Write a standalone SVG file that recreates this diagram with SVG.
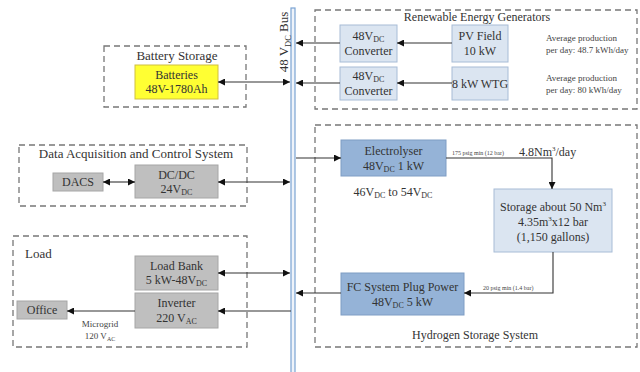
<svg xmlns="http://www.w3.org/2000/svg" width="640" height="372" viewBox="0 0 640 372">
  <defs>
    <marker id="ah" viewBox="0 0 10 10" refX="10" refY="5" markerWidth="7" markerHeight="7" markerUnits="userSpaceOnUse" orient="auto-start-reverse">
      <path d="M0,0 L10,5 L0,10 z" fill="#111"/>
    </marker>
    <style>
      text { font-family: "Liberation Serif", "Times New Roman", serif; fill: #333; }
      .group { fill: none; stroke: #777; stroke-width: 1.3; stroke-dasharray: 6 4; }
      .title { font-size: 13px; }
      .label { font-size: 12px; text-anchor: middle; }
      .note { font-size: 9px; fill: #444; }
      .tiny { font-size: 6px; fill: #444; }
      .lblue { fill: #dbe5f1; stroke: #a7bcd6; stroke-width: 1; }
      .dblue { fill: #95b3d7; stroke: #7f9dc4; stroke-width: 1; }
      .gray { fill: #bfbfbf; stroke: #a6a6a6; stroke-width: 1; }
      .yellow { fill: #ffff33; stroke: #d0c040; stroke-width: 1; }
      .wire { fill: none; stroke: #333; stroke-width: 1.1; }
      .one { marker-end: url(#ah); }
      .two { marker-start: url(#ah); marker-end: url(#ah); }
    </style>
  </defs>

  <!-- DC bus -->
  <g id="bus">
    <rect x="291" y="8" width="4" height="366" fill="#eef3fa" stroke="#7aa3d3" stroke-width="1.2"/>
    <text transform="translate(288,42) rotate(-90)" text-anchor="middle" font-size="13">48 V<tspan font-size="8.5" dy="3">DC</tspan><tspan dy="-3"> Bus</tspan></text>
  </g>

  <!-- group frames -->
  <g id="renewable-group">
    <rect class="group" x="315" y="10" width="322" height="99"/>
    <text x="477" y="21" font-size="12" text-anchor="middle">Renewable Energy Generators</text>
  </g>
  <g id="battery-group">
    <rect class="group" x="104" y="46" width="142" height="61"/>
    <text class="title" x="177" y="60" text-anchor="middle">Battery Storage</text>
  </g>
  <g id="dacs-group">
    <rect class="group" x="19" y="145" width="228" height="61"/>
    <text class="title" x="136" y="158" text-anchor="middle">Data Acquisition and Control System</text>
  </g>
  <g id="load-group">
    <rect class="group" x="13" y="236" width="234" height="111"/>
    <text class="title" x="25" y="258">Load</text>
  </g>
  <g id="hydrogen-group">
    <rect class="group" x="315" y="125" width="322" height="222"/>
    <text x="475" y="339" font-size="12" text-anchor="middle">Hydrogen Storage System</text>
  </g>

  <!-- renewable generators -->
  <g id="converter-pv">
    <rect class="lblue" x="340" y="25" width="57" height="37"/>
    <text class="label" x="368.5" y="40">48V<tspan font-size="8" dy="2">DC</tspan></text>
    <text class="label" x="368.5" y="55">Converter</text>
  </g>
  <g id="converter-wtg">
    <rect class="lblue" x="340" y="67" width="57" height="33"/>
    <text class="label" x="368.5" y="80">48V<tspan font-size="8" dy="2">DC</tspan></text>
    <text class="label" x="368.5" y="95">Converter</text>
  </g>
  <g id="pv-field">
    <rect class="lblue" x="452" y="25" width="56" height="37"/>
    <text class="label" x="480" y="40">PV Field</text>
    <text class="label" x="480" y="55">10 kW</text>
  </g>
  <g id="wtg">
    <rect class="lblue" x="452" y="67" width="56" height="33"/>
    <text class="label" x="480" y="88">8 kW WTG</text>
  </g>
  <g id="pv-note">
    <text class="note" x="546" y="41">Average production</text>
    <text class="note" x="546" y="53">per day: 48.7 kWh/day</text>
  </g>
  <g id="wtg-note">
    <text class="note" x="546" y="81">Average production</text>
    <text class="note" x="546" y="93">per day: 80 kWh/day</text>
  </g>

  <!-- battery -->
  <g id="batteries">
    <rect class="yellow" x="135" y="65" width="83" height="34"/>
    <text class="label" x="176.5" y="79">Batteries</text>
    <text class="label" x="176.5" y="93">48V-1780Ah</text>
  </g>

  <!-- data acquisition -->
  <g id="dacs">
    <rect class="gray" x="53" y="173" width="50" height="18"/>
    <text class="label" x="78" y="186">DACS</text>
  </g>
  <g id="dcdc">
    <rect class="gray" x="135" y="165" width="83" height="33"/>
    <text class="label" x="176.5" y="179">DC/DC</text>
    <text class="label" x="176.5" y="193">24V<tspan font-size="8" dy="2">DC</tspan></text>
  </g>

  <!-- load -->
  <g id="load-bank">
    <rect class="gray" x="135" y="256" width="83" height="34"/>
    <text class="label" x="176.5" y="270">Load Bank</text>
    <text class="label" x="176.5" y="284">5 kW-48V<tspan font-size="8" dy="2">DC</tspan></text>
  </g>
  <g id="inverter">
    <rect class="gray" x="135" y="293" width="83" height="35"/>
    <text class="label" x="176.5" y="307">Inverter</text>
    <text class="label" x="176.5" y="322">220 V<tspan font-size="8" dy="2">AC</tspan></text>
  </g>
  <g id="office">
    <rect class="gray" x="17" y="301" width="50" height="18"/>
    <text class="label" x="42" y="314">Office</text>
  </g>
  <g id="microgrid-note">
    <text class="note" x="100" y="327" text-anchor="middle">Microgrid</text>
    <text class="note" x="100" y="339" text-anchor="middle">120 V<tspan font-size="6" dy="1.5">AC</tspan></text>
  </g>

  <!-- hydrogen system -->
  <g id="electrolyser">
    <rect class="dblue" x="341" y="140" width="105" height="36"/>
    <text class="label" x="393.5" y="155">Electrolyser</text>
    <text class="label" x="393.5" y="170">48V<tspan font-size="8" dy="2">DC</tspan><tspan dy="-2"> 1 kW</tspan></text>
    <text class="label" x="393" y="196">46V<tspan font-size="8" dy="2">DC</tspan><tspan dy="-2"> to 54V</tspan><tspan font-size="8" dy="2">DC</tspan></text>
  </g>
  <g id="h2-storage">
    <rect class="lblue" x="494" y="189" width="118" height="63"/>
    <text class="label" x="553" y="211">Storage about 50 Nm<tspan font-size="7" dy="-5">3</tspan></text>
    <text class="label" x="553" y="226">4.35m<tspan font-size="7" dy="-5">3</tspan><tspan dy="5">x12 bar</tspan></text>
    <text class="label" x="553" y="241">(1,150 gallons)</text>
  </g>
  <g id="fuel-cell">
    <rect class="dblue" x="341" y="273" width="123" height="42"/>
    <text class="label" x="402.5" y="291">FC System Plug Power</text>
    <text class="label" x="402.5" y="306">48V<tspan font-size="8" dy="2">DC</tspan><tspan dy="-2"> 5 kW</tspan></text>
  </g>

  <!-- connectors -->
  <g id="connectors">
    <path class="wire one" d="M452,43 H397"/>
    <path class="wire one" d="M340,43 H296"/>
    <path class="wire one" d="M452,83 H397"/>
    <path class="wire one" d="M340,83 H296"/>
    <path class="wire two" d="M218,82 H290"/>
    <path class="wire two" d="M103,182 H135"/>
    <path class="wire two" d="M218,182 H290"/>
    <path class="wire two" d="M218,273 H290"/>
    <path class="wire one" d="M291,311 H218"/>
    <path class="wire one" d="M135,311 H67"/>
    <path class="wire one" d="M296,158 H341"/>
    <path class="wire one" d="M446,158 H552 V189"/>
    <path class="wire one" d="M553,252 V293 H464"/>
    <path class="wire one" d="M341,293 H296"/>
    <text class="tiny" x="452" y="155">175 psig min (12 bar)</text>
    <text x="519" y="156" font-size="12">4.8Nm<tspan font-size="7" dy="-5">3</tspan><tspan dy="5">/day</tspan></text>
    <text class="tiny" x="483" y="290">20 psig min (1.4 bar)</text>
  </g>
</svg>
